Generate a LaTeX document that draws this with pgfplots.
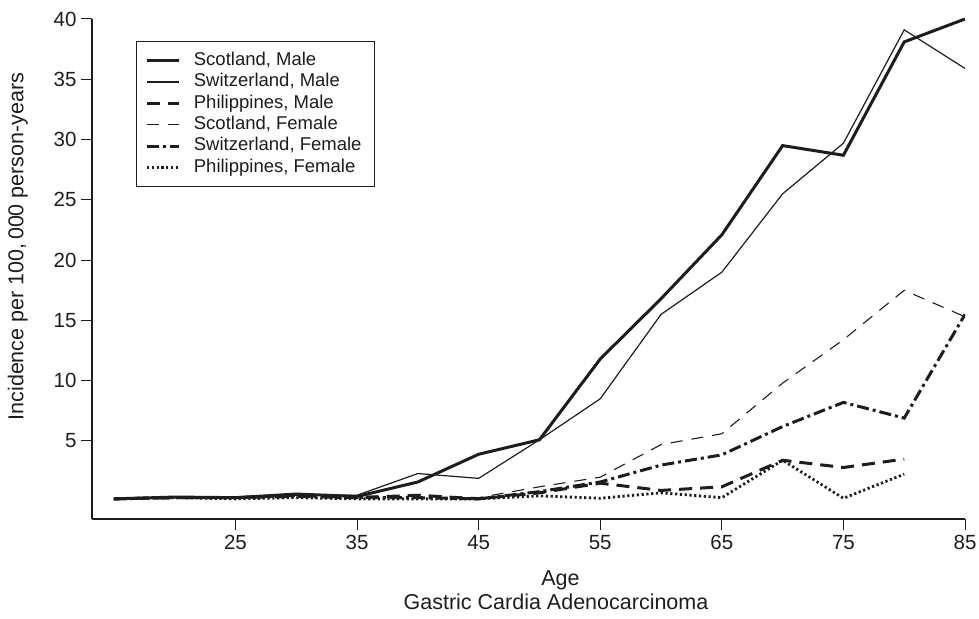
\documentclass[border=0pt]{standalone}
\usepackage{pgfplots}
\pgfplotsset{compat=1.18}
\usepackage{fontspec}
\setmainfont{Liberation Sans}
\definecolor{ink}{RGB}{30,28,28}
\pgfplotstableread{
age SM SwM PM SF SwF PF
15 0.2 0.2 0.2 0.2 0.2 0.2
20 0.35 0.35 0.3 0.3 0.3 0.3
25 0.3 0.3 0.3 0.3 0.3 0.2
30 0.6 0.5 0.5 0.4 0.4 0.3
35 0.4 0.5 0.3 0.4 0.3 0.2
40 1.6 2.3 0.5 0.5 0.3 0.2
45 3.9 1.9 0.2 0.3 0.2 0.2
50 5.1 5.1 0.7 1.2 0.8 0.45
55 11.8 8.5 1.5 2.0 1.6 0.25
60 16.8 15.5 0.9 4.7 3.0 0.7
65 22.1 19.0 1.2 5.6 3.85 0.3
70 29.5 25.5 3.4 9.8 6.2 3.4
75 28.7 29.7 2.8 13.4 8.2 0.25
80 38.1 39.1 3.5 17.5 6.9 2.25
85 40.0 35.9 nan 15.3 15.5 nan
}\data
\begin{document}
\begin{tikzpicture}[x=1pt,y=1pt]
\path[use as bounding box] (0,0) rectangle (979,618);
\begin{axis}[
  at={(92pt,99pt)}, anchor=south west,
  scale only axis, width=873pt, height=500pt,
  xmin=13.2, xmax=85, ymin=-1.47, ymax=40,
  axis x line=bottom, axis y line=left,
  axis line style={line width=1.3pt, -, ink},
  xtick={25,35,...,85}, ytick={5,10,...,40},
  tick align=outside, major tick length=11pt,
  tick style={line width=1pt, ink},
  /pgf/number format/assume math mode=true,
  tick label style={font=\fontsize{20.5}{24}\selectfont, text=ink},
  xticklabel style={yshift=-2pt},
  yticklabel style={xshift=-1pt},
  unbounded coords=jump,
  legend style={at={(axis description cs:0.0504,0.956)}, anchor=north west,
    draw=ink, line width=0.8pt, font=\fontsize{18.5}{21}\selectfont,
    inner xsep=9pt, inner ysep=8.5pt, row sep=0pt, column sep=10pt,
    nodes={text height=13.5pt, text depth=4pt, inner ysep=1.95pt, inner xsep=3.5pt},
    cells={anchor=west}, text=ink},
  legend image code/.code={\draw[#1] (0pt,0pt) -- (32pt,0pt);},
]
\addplot[ink, line width=3pt] table[x=age, y=SM] {\data};
\addlegendentry{Scotland, Male}
\addplot[ink, line width=1.2pt] table[x=age, y=SwM] {\data};
\addlegendentry{Switzerland, Male}
\addplot[ink, line width=3pt, dash pattern=on 13pt off 8pt] table[x=age, y=PM] {\data};
\addlegendentry{Philippines, Male}
\addplot[ink, line width=1.1pt, dash pattern=on 12pt off 9pt] table[x=age, y=SF] {\data};
\addlegendentry{Scotland, Female}
\addplot[ink, line width=3pt, dash pattern=on 12pt off 4pt on 3pt off 4pt] table[x=age, y=SwF] {\data};
\addlegendentry{Switzerland, Female}
\addplot[ink, line width=2.8pt, dash pattern=on 2.2pt off 2.6pt] table[x=age, y=PF] {\data};
\addlegendentry{Philippines, Female}
\end{axis}
\node[anchor=base, rotate=90, text=ink, font=\fontsize{21.5}{24}\selectfont] at (23.5,371.5) {Incidence per 100,\,000 person-years};
\node[anchor=base, text=ink, font=\fontsize{21.5}{24}\selectfont] at (560.5,33) {Age};
\node[anchor=base, text=ink, font=\fontsize{21.5}{24}\selectfont] at (556,9) {Gastric Cardia Adenocarcinoma};
\end{tikzpicture}
\end{document}
